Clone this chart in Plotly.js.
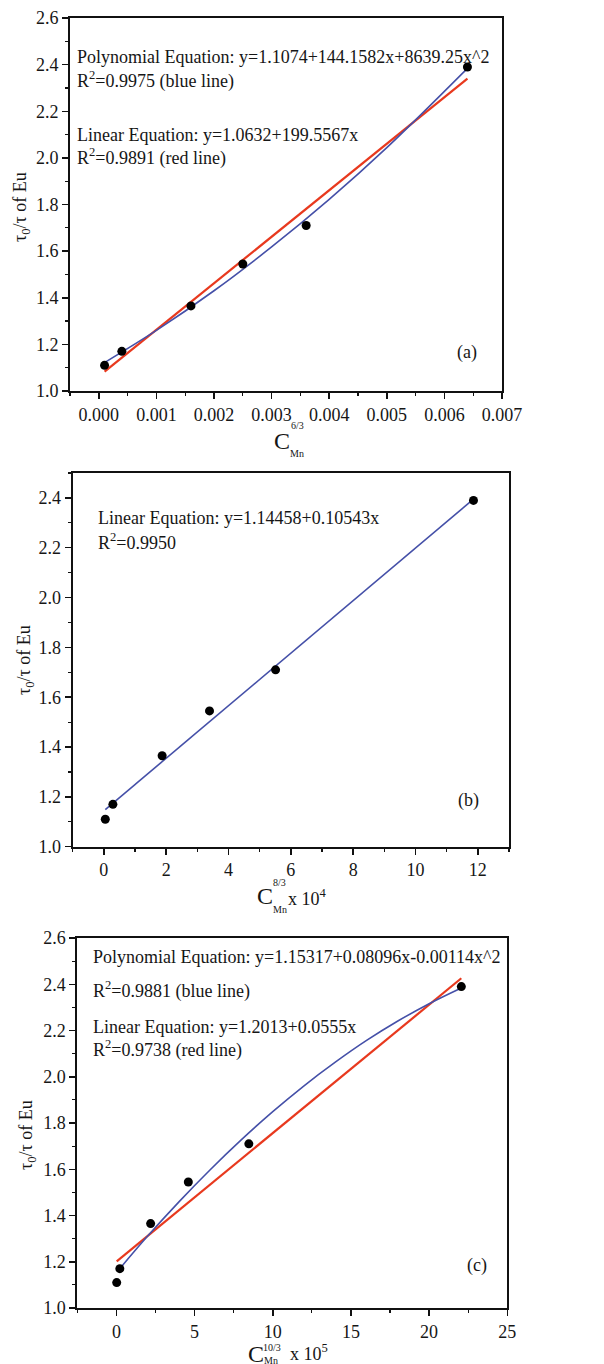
<!DOCTYPE html>
<html>
<head>
<meta charset="utf-8">
<script src="https://cdn.plot.ly/plotly-3.0.1.min.js"></script>
<style>html,body{margin:0;padding:0;background:#fff;}#chart{width:604px;height:1364px;}</style>
</head>
<body>
<div id="chart"></div>
<script>
// ---- data ----
const tauRatio = [1.11, 1.17, 1.365, 1.545, 1.71, 2.39];          // τ0/τ of Eu
const xA = [0.0001, 0.0004, 0.0016, 0.0025, 0.0036, 0.0064];       // C_Mn^(6/3)
const xB = [0.046, 0.29, 1.87, 3.39, 5.51, 11.86];                 // C_Mn^(8/3) x 10^4
const xC = [0.02, 0.22, 2.19, 4.6, 8.47, 22.06];                   // C_Mn^(10/3) x 10^5

// fitted curves
const polyFitAx = [0.0001, 0.001, 0.002, 0.003, 0.004, 0.005, 0.0064];
const polyFitAy = [1.122, 1.260, 1.430, 1.618, 1.822, 2.044, 2.384];
const linFitAx = [0.0001, 0.0064];
const linFitAy = [1.083, 2.340];
const linFitBx = [0.046, 11.86];
const linFitBy = [1.149, 2.395];
const polyFitCx = [0.2, 2, 4, 6, 8, 10, 12, 14, 16, 18, 20, 22.06];
const polyFitCy = [1.169, 1.311, 1.459, 1.598, 1.728, 1.849, 1.961, 2.063, 2.157, 2.241, 2.316, 2.384];
const linFitCx = [0.02, 22.06];
const linFitCy = [1.202, 2.426];

// texts
const textsA = ["Polynomial Equation: y=1.1074+144.1582x+8639.25x^2", "R<sup>2</sup>=0.9975 (blue line)",
                "Linear Equation: y=1.0632+199.5567x", "R<sup>2</sup>=0.9891 (red line)"];
const textsB = ["Linear Equation: y=1.14458+0.10543x", "R<sup>2</sup>=0.9950"];
const textsC = ["Polynomial Equation: y=1.15317+0.08096x-0.00114x^2", "R<sup>2</sup>=0.9881 (blue line)",
                "Linear Equation: y=1.2013+0.0555x", "R<sup>2</sup>=0.9738 (red line)"];
const yTitle = "τ<sub>0</sub>/τ of Eu";

// ---- styling / layout ----
const W = 604, H = 1364;
const FONT = '"Liberation Serif", "Times New Roman", serif';
const TXT = '#161616';
const BLUE = '#4550a8';
const RED = '#e8391e';
const px = v => v / W;
const py = v => 1 - v / H;

function pts(x, xa, ya) {
  return {x: x, y: tauRatio, xaxis: xa, yaxis: ya, type: 'scatter', mode: 'markers',
          marker: {color: '#000', size: 9}, showlegend: false, cliponaxis: false};
}
function line(x, y, xa, ya, color, width, shape) {
  return {x: x, y: y, xaxis: xa, yaxis: ya, type: 'scatter', mode: 'lines',
          line: {color: color, width: width, shape: shape || 'linear'}, showlegend: false};
}

const traces = [
  line(linFitAx, linFitAy, 'x', 'y', RED, 2.2),
  line(polyFitAx, polyFitAy, 'x', 'y', BLUE, 1.6, 'spline'),
  pts(xA, 'x', 'y'),
  line(linFitBx, linFitBy, 'x2', 'y2', BLUE, 1.6),
  pts(xB, 'x2', 'y2'),
  line(linFitCx, linFitCy, 'x3', 'y3', RED, 2.2),
  line(polyFitCx, polyFitCy, 'x3', 'y3', BLUE, 1.6, 'spline'),
  pts(xC, 'x3', 'y3')
];

function xax(dom, anchor, range, dtick, minor, fmt) {
  return {domain: dom, anchor: anchor, range: range, tick0: 0, dtick: dtick, tickformat: fmt,
          ticks: 'outside', ticklen: 6, tickwidth: 1.5, tickcolor: '#111',
          minor: {dtick: minor, tick0: 0, ticks: 'outside', ticklen: 3, tickwidth: 1.2, tickcolor: '#111'},
          showline: true, mirror: true, linewidth: 2, linecolor: '#111',
          showgrid: false, zeroline: false, fixedrange: true,
          tickfont: {family: FONT, size: 18, color: TXT}};
}
function yax(dom, anchor, range) {
  return {domain: dom, anchor: anchor, range: range, tick0: 1, dtick: 0.2, tickformat: '.1f',
          ticks: 'outside', ticklen: 6, tickwidth: 1.5, tickcolor: '#111',
          minor: {dtick: 0.1, ticks: 'outside', ticklen: 3, tickwidth: 1.2, tickcolor: '#111'},
          showline: true, mirror: true, linewidth: 2, linecolor: '#111',
          showgrid: false, zeroline: false, fixedrange: true,
          tickfont: {family: FONT, size: 18, color: TXT}};
}

const ann = [];
function note(text, x, y, size, anchor, angle) {
  ann.push({text: text, xref: 'paper', yref: 'paper', x: px(x), y: py(y),
            xanchor: anchor || 'left', yanchor: 'middle', showarrow: false,
            textangle: angle || 0, font: {family: FONT, size: size || 18, color: TXT}});
}
// panel (a)
note(textsA[0], 75, 57); note(textsA[1], 75, 80); note(textsA[2], 75, 135); note(textsA[3], 75, 157);
note("(a)", 467, 352, 18, 'center');
// panel (b)
note(textsB[0], 96, 518); note(textsB[1], 96, 541);
note("(b)", 468, 800, 18, 'center');
// panel (c)
note(textsC[0], 91, 957); note(textsC[1], 91, 990); note(textsC[2], 91, 1027); note(textsC[3], 91, 1049);
note("(c)", 477, 1265, 18, 'center');
// y titles
note(yTitle, 22, 207, 18, 'center', -90);
note(yTitle, 25, 660, 18, 'center', -90);
note(yTitle, 27, 1135, 18, 'center', -90);
// x titles (a)
note("C", 272, 441, 24);
note("6/3", 289, 426, 10);
note("Mn", 288, 454, 10);
// x titles (b)
note("C", 255, 896, 24);
note("8/3", 271, 882, 10);
note("Mn", 271, 909, 10);
note("x 10<sup>4</sup>", 286, 897, 18);
// x titles (c)
note("C", 246, 1354, 24);
note("10/3", 261, 1347, 10);
note("Mn", 262, 1360, 10);
note("x 10<sup>5</sup>", 288, 1352, 18);

const layout = {
  width: W, height: H, margin: {l: 0, r: 0, t: 0, b: 0},
  paper_bgcolor: '#fff', plot_bgcolor: '#fff', showlegend: false,
  font: {family: FONT, size: 18, color: TXT},
  xaxis: xax([px(70), px(502)], 'y', [-0.0005, 0.007], 0.001, 0.0005, '.3f'),
  yaxis: yax([py(391), py(18)], 'x', [1.0, 2.6]),
  xaxis2: xax([px(72.7), px(509)], 'y2', [-1, 13], 2, 1, 'd'),
  yaxis2: yax([py(846.7), py(473)], 'x2', [1.0, 2.5]),
  xaxis3: xax([px(77.3), px(507.3)], 'y3', [-2.5, 25], 5, 2.5, 'd'),
  yaxis3: yax([py(1308), py(938)], 'x3', [1.0, 2.6]),
  annotations: ann
};

Plotly.newPlot('chart', traces, layout, {staticPlot: true, displayModeBar: false});
</script>
</body>
</html>
